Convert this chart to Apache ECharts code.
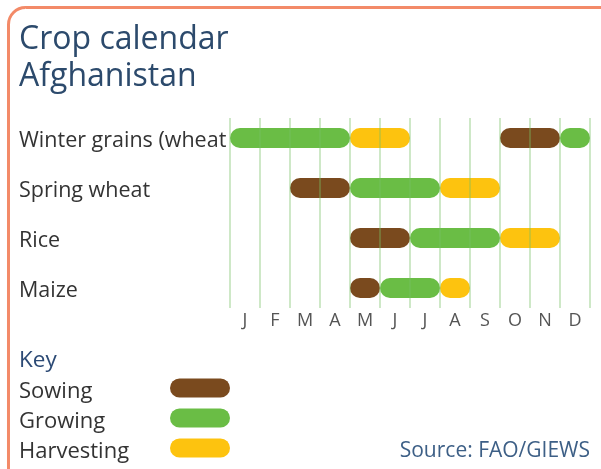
<!DOCTYPE html>
<html><head><meta charset="utf-8">
<script src="https://cdn.jsdelivr.net/npm/echarts/dist/echarts.min.js"></script>
<style>html,body{margin:0;padding:0;background:#fff}#c{width:601px;height:469px}</style>
</head><body><div id="c"></div>
<script>
const months = ['J','F','M','A','M','J','J','A','S','O','N','D'];
const crops = ['Winter grains (wheat)','Spring wheat','Rice','Maize'];
const stages = ['Sowing','Growing','Harvesting'];
const stageColors = ['#7a4a1e','#6abd45','#fdc30f'];
// [crop index, first month, month after last, stage index]; month 0 = January
const winterGrains = [[0,0,4,1],[0,4,6,2],[0,9,11,0],[0,11,12,1]];
const springWheat  = [[1,2,4,0],[1,4,7,1],[1,7,9,2]];
const rice         = [[2,4,6,0],[2,6,9,1],[2,9,11,2]];
const maize        = [[3,4,5,0],[3,5,7,1],[3,7,8,2]];
const monthEdges = [0,1,2,3,4,5,6,7,8,9,10,11,12];
const title = ['Crop calendar','Afghanistan'];
const source = 'Source: FAO/GIEWS';

const FONT = '"Open Sans", sans-serif';
const BAR_H = 20;
const LABEL_X = 19;

const chart = echarts.init(document.getElementById('c'));

// key: stage names with a pill of each stage colour
const legendItems = [];
stages.forEach((name, i) => {
  const cy = 388 + i * 30;
  legendItems.push({type:'text', x: LABEL_X, y: cy + 4,
    style:{text: name, fill:'#333', font: '22px ' + FONT, verticalAlign:'middle'}});
  legendItems.push({type:'rect', shape:{x:170, y:cy - 9.5, width:60, height:19, r:9.5},
    style:{fill: stageColors[i]}});
});

chart.setOption({
  animation: false,
  grid: {left: 230, right: 11, top: 118, bottom: 161},
  xAxis: [
    {type:'value', min:0, max:12, show:false},
    {type:'category', data: months, position:'bottom', boundaryGap:true,
      axisLine:{show:false}, axisTick:{show:false}, splitLine:{show:false},
      axisLabel:{color:'#555', fontSize:18, fontFamily:FONT, margin:4}}
  ],
  yAxis: {type:'value', min:-0.4, max:3.4, inverse:true, show:false},
  graphic: [
    {type:'rect', shape:{x:8.5, y:7.5, width:700, height:600, r:17},
      style:{fill:'none', stroke:'#f38a68', lineWidth:3}},
    {type:'text', x:LABEL_X, y:40, style:{text:title[0], fill:'#2c4a6c', font:'32px ' + FONT, verticalAlign:'middle'}},
    {type:'text', x:LABEL_X, y:77, style:{text:title[1], fill:'#2c4a6c', font:'32px ' + FONT, verticalAlign:'middle'}},
    {type:'text', x:LABEL_X, y:361, style:{text:'Key', fill:'#2c4a75', font:'22.5px ' + FONT, verticalAlign:'middle'}},
    {type:'text', x:590, y:451, style:{text:source, fill:'#3d5f86', font:'21px ' + FONT, align:'right', verticalAlign:'middle'}}
  ].concat(legendItems),
  series: [
    {
      // crop names, cut off where the bar area begins
      type:'custom', xAxisIndex:0, z:1, clip:false,
      data: crops.map((c, i) => [i]),
      renderItem(params, api) {
        const p = api.coord([0, api.value(0)]);
        return {type:'text', x:LABEL_X, y:p[1] + 3,
          style:{text: crops[params.dataIndex], fill:'#333', font:'21.5px ' + FONT,
            verticalAlign:'middle', width: p[0] - LABEL_X, overflow:'truncate', ellipsis:''}};
      }
    },
    {
      type:'custom', xAxisIndex:0, z:3,
      data: [].concat(winterGrains, springWheat, rice, maize),
      encode:{x:[1,2], y:0},
      renderItem(params, api) {
        const row = api.value(0);
        const a = api.coord([api.value(1), row]);
        const b = api.coord([api.value(2), row]);
        return {type:'rect',
          shape:{x:a[0], y:a[1] - BAR_H/2, width:b[0] - a[0], height:BAR_H, r:BAR_H/2},
          style:{fill: stageColors[api.value(3)]}};
      }
    },
    {
      // month dividers, drawn faintly over the bars
      type:'custom', xAxisIndex:0, z:4,
      data: monthEdges.map(m => [m]),
      encode:{x:0},
      renderItem(params, api) {
        const a = api.coord([api.value(0), -0.4]);
        const b = api.coord([api.value(0), 3.4]);
        return {type:'line', shape:{x1:a[0], y1:a[1], x2:b[0], y2:b[1]},
          style:{stroke:'rgba(120,190,100,0.36)', lineWidth:2}};
      }
    }
  ]
});
</script></body></html>
